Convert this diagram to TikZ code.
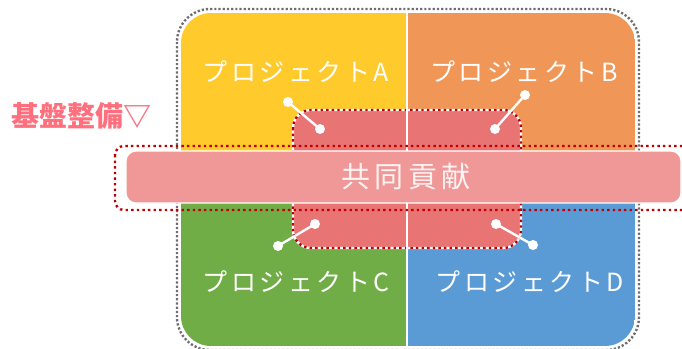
\documentclass[tikz,border=0pt]{standalone}
\usepackage{fontspec}
\newfontfamily\cjk{Noto Sans CJK JP}
\newfontfamily\cjksp{Noto Sans CJK JP}[LetterSpace=14]
\newfontfamily\cjkmid{Noto Sans CJK JP}[LetterSpace=14]
\definecolor{qyellow}{HTML}{FFCA2C}
\definecolor{qorange}{HTML}{F09656}
\definecolor{qgreen}{HTML}{70AD47}
\definecolor{qblue}{HTML}{5B9BD5}
\definecolor{cbox}{HTML}{E97474}
\definecolor{band}{HTML}{EF9897}
\definecolor{lbl}{HTML}{FF6F7D}
\definecolor{rdot}{HTML}{C00000}
\definecolor{gdot}{HTML}{6E6E6E}
\tikzset{
  projtext/.style={text=white, font=\cjksp\fontsize{25}{28}\selectfont, inner sep=0pt},
  reddots/.style={draw=rdot, line width=2.4pt, dash pattern=on 2.4pt off 3.2pt},
  graydots/.style={draw=gdot, line width=2.4pt, dash pattern=on 2.2pt off 2pt},
  conn/.style={draw=white, line width=2.4pt},
  dotend/.style={circle, fill=white, minimum size=10pt, inner sep=0pt},
}
\begin{document}
\begin{tikzpicture}[x=1pt,y=-1pt]
\useasboundingbox (0,0) rectangle (682,348);
% quadrants
\begin{scope}
  \clip[rounded corners=30pt] (181,13) rectangle (635,346);
  \fill[qyellow] (181,13) rectangle (407,178);
  \fill[qorange] (407,13) rectangle (635,178);
  \fill[qgreen] (181,178) rectangle (407,346);
  \fill[qblue] (407,178) rectangle (635,346);
\end{scope}
% outer gray dotted border
\draw[graydots, rounded corners=33pt] (177,9) rectangle (639,350);
% center box
\filldraw[fill=cbox, draw=white, line width=2.4pt, rounded corners=18pt] (293,110) rectangle (521,248);
\draw[reddots, rounded corners=18pt] (293,110) rectangle (521,248);
% vertical divider
\draw[white, line width=1.5pt] (407,13) -- (407,346);
% band dotted outline
\draw[reddots, rounded corners=9pt] (115,146) rectangle (695,210);
% band
\filldraw[fill=band, draw=white, line width=1.2pt, rounded corners=10pt] (126,151) rectangle (681,203);
% texts
\node[projtext] (tA) at (296,72) {プロジェクトA};
\node[projtext] (tB) at (524,72) {プロジェクトB};
\node[projtext] (tC) at (296,282) {プロジェクトC};
\node[projtext] (tD) at (530,282) {プロジェクトD};
\node[text=white!88!band, font=\cjkmid\fontsize{29}{32}\selectfont, inner sep=0pt] (tM) at (406,177) {共同貢献};
\node[text=lbl, font=\cjk\bfseries\fontsize{28}{32}\selectfont, inner sep=0pt] (tL) at (81,116) {基盤整備▽};
% connectors
\node[dotend] (a1) at (288,102) {};
\node[dotend] (a2) at (320,129) {};
\node[dotend] (b1) at (525,95) {};
\node[dotend] (b2) at (495,129) {};
\node[dotend] (c1) at (315,224) {};
\node[dotend] (c2) at (278,246) {};
\node[dotend] (d1) at (496,224) {};
\node[dotend] (d2) at (533,245) {};
\draw[conn] (a1.center) -- (a2.center);
\draw[conn] (b1.center) -- (b2.center);
\draw[conn] (c1.center) -- (c2.center);
\draw[conn] (d1.center) -- (d2.center);
\end{tikzpicture}
\end{document}
